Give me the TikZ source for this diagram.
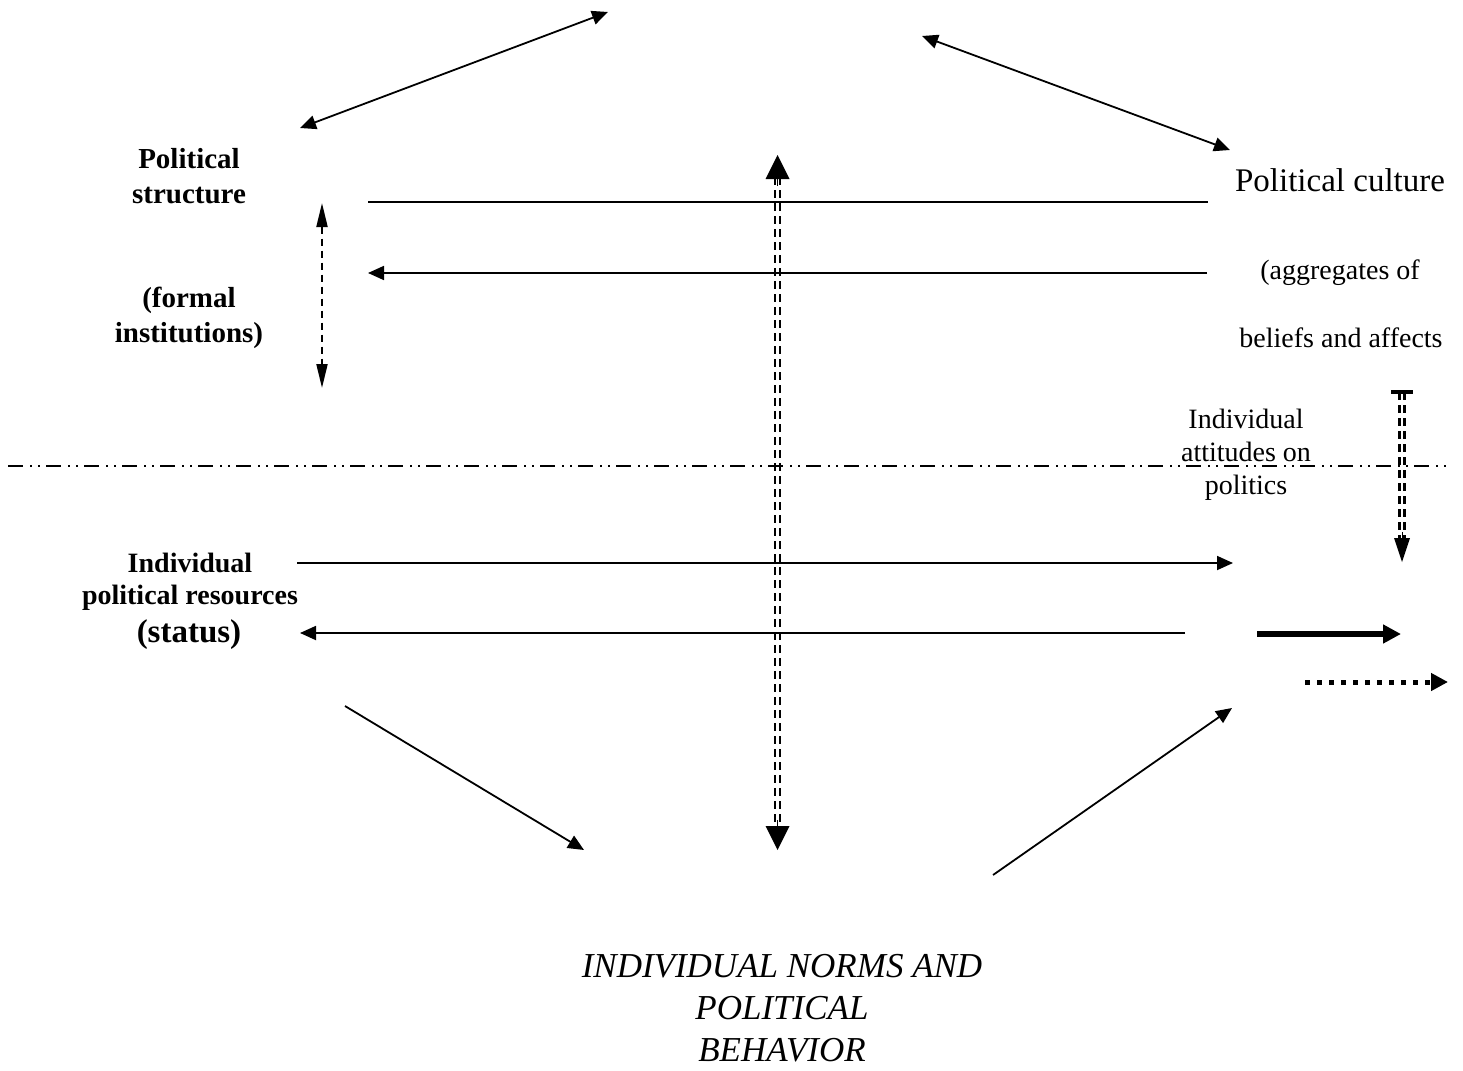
\documentclass[tikz,border=0pt]{standalone}
\usepackage{fontspec}
\setmainfont{Liberation Serif}
\usetikzlibrary{arrows.meta}
\tikzset{
  thin/.style={line width=1.8pt},
  tipone/.style={-{Triangle[length=16pt,width=14pt]}},
  tipboth/.style={{Triangle[length=16pt,width=14pt]}-{Triangle[length=16pt,width=14pt]}},
  dashline/.style={line width=2.6pt,dash pattern=on 8pt off 5pt},
  bigtip/.style={-{Triangle[length=24pt,width=24pt]}},
  lbl/.style={align=center,inner sep=0pt},
  boldlbl/.style={lbl,font=\bfseries\fontsize{29}{35}\selectfont},
  plainlbl/.style={lbl,font=\fontsize{28}{33}\selectfont}
}
\begin{document}
\begin{tikzpicture}[x=1pt,y=-1pt]
\useasboundingbox (0,0) rectangle (1463,1070);
% text nodes
\node[boldlbl] (ps) at (189,176) {Political\\structure};
\node[boldlbl] (fi) at (189,318) {(formal\\institutions)};
\node[lbl,font=\fontsize{33}{38}\selectfont] (pc) at (1340,180) {Political culture};
\node[plainlbl] (ag) at (1340,273) {(aggregates of};
\node[plainlbl] (ba) at (1341,338) {beliefs and affects};
\node[plainlbl] (ia) at (1246,455) {Individual\\attitudes on\\politics};
\node[lbl,font=\bfseries\fontsize{28}{32}\selectfont] (ir) at (190,582) {Individual\\political resources};
\node[lbl,font=\bfseries\fontsize{33}{38}\selectfont] (st) at (189,635) {(status)};
\node[lbl,font=\itshape\fontsize{35}{42}\selectfont] (nb) at (782,1008) {INDIVIDUAL NORMS AND\\POLITICAL\\BEHAVIOR};
% coordinates
\coordinate (tl1) at (300,128); \coordinate (tl2) at (608,12);
\coordinate (tr1) at (922,36); \coordinate (tr2) at (1230,150);
\coordinate (ld1) at (322,203); \coordinate (ld2) at (322,388);
\coordinate (h1a) at (368,202); \coordinate (h1b) at (1208,202);
\coordinate (h2a) at (1207,273); \coordinate (h2b) at (368,273);
\coordinate (cv1) at (777.5,155); \coordinate (cv2) at (777.5,850);
\coordinate (rv1) at (1402,392); \coordinate (rv2) at (1402,562);
\coordinate (h3a) at (297,563); \coordinate (h3b) at (1233,563);
\coordinate (h4a) at (1185,633); \coordinate (h4b) at (300,633);
\coordinate (lg1a) at (1257,634); \coordinate (lg1b) at (1401,634);
\coordinate (lg2a) at (1305,682); \coordinate (lg2b) at (1448,682);
\coordinate (d1a) at (345,706); \coordinate (d1b) at (584,850);
\coordinate (d2a) at (993,875); \coordinate (d2b) at (1232,708);
\coordinate (dd1) at (8,466); \coordinate (dd2) at (1452,466);
% dash-dot-dot line
\draw[line width=1.8pt,dash pattern=on 15pt off 7pt on 1.5pt off 6.5pt on 1.5pt off 6.5pt] (dd1) -- (dd2);
% top double arrows
\draw[thin,tipboth] (tl1) -- (tl2);
\draw[thin,tipboth] (tr1) -- (tr2);
% horizontal connectors
\draw[thin] (h1a) -- (h1b);
\draw[thin,tipone] (h2a) -- (h2b);
\draw[thin,tipone] (h3a) -- (h3b);
\draw[thin,tipone] (h4a) -- (h4b);
% left dashed double arrow
\draw[line width=2pt,dash pattern=on 7pt off 5pt,{Triangle[length=24pt,width=11pt]}-{Triangle[length=24pt,width=11pt]}] (ld1) -- (ld2);
% central double dashed
\draw[dashline] ([xshift=-2.6pt,yshift=-22pt]cv1) -- ([xshift=-2.6pt,yshift=22pt]cv2);
\draw[dashline] ([xshift=2.6pt,yshift=-22pt]cv1) -- ([xshift=2.6pt,yshift=22pt]cv2);
\draw[line width=0pt,bigtip] ([yshift=30pt]cv2) -- (cv2);
\draw[line width=0pt,bigtip] ([yshift=-30pt]cv1) -- (cv1);
% right double dashed with bar
\draw[dashline] ([xshift=-2.6pt]rv1) -- ([xshift=-2.6pt,yshift=22pt]rv2);
\draw[dashline] ([xshift=2.6pt]rv1) -- ([xshift=2.6pt,yshift=22pt]rv2);
\draw[line width=4pt] ([xshift=-11pt]rv1) -- ([xshift=11pt]rv1);
\draw[line width=0pt,-{Triangle[length=24pt,width=16pt]}] ([yshift=30pt]rv2) -- (rv2);
% legend arrows
\draw[line width=6pt,-{Triangle[length=18pt,width=18pt]}] (lg1a) -- (lg1b);
\draw[line width=5pt,dash pattern=on 5pt off 7pt,-{Triangle[length=17pt,width=17pt]}] (lg2a) -- (lg2b);
% diagonals
\draw[thin,tipone] (d1a) -- (d1b);
\draw[thin,tipone] (d2a) -- (d2b);
\end{tikzpicture}
\end{document}
